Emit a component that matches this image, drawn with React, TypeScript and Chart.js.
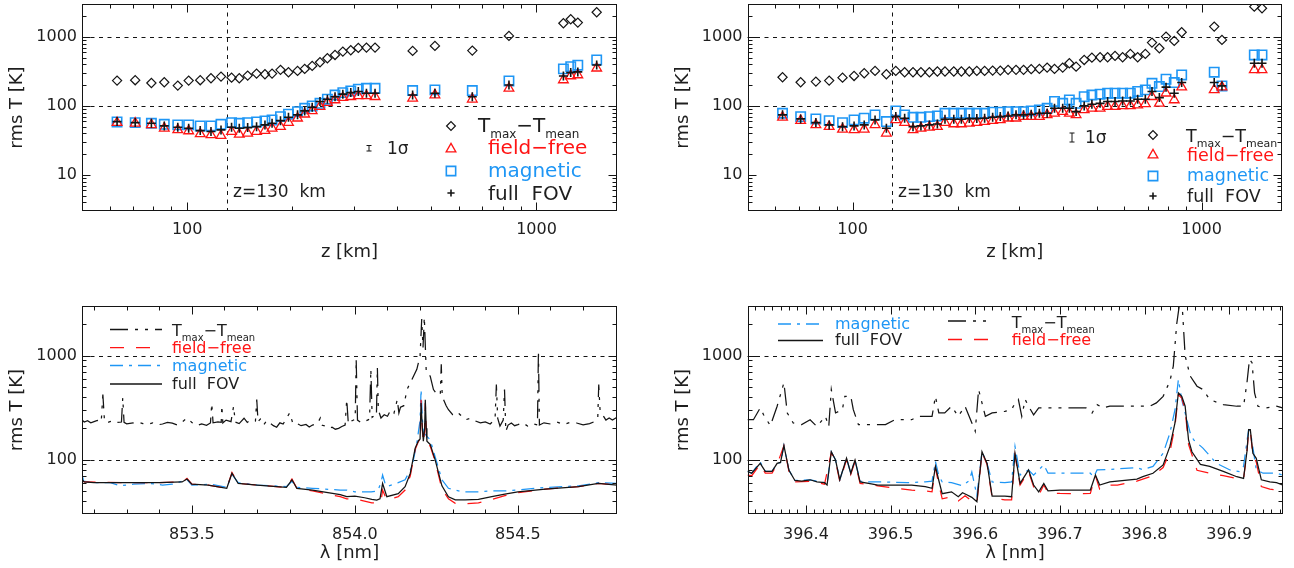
import React, { useEffect, useRef } from "react";
import { Chart, registerables } from "chart.js";

Chart.register(...registerables);

const W = 1294;
const H = 568;
const FONT = "'DejaVu Sans', 'Liberation Sans', sans-serif";
const INK = "#141414";
const TXT = "#1e1e1e";
const RED = "rgb(255,20,20)";
const BLUE = "rgb(30,150,245)";

// ---------------- top-left panel: height z [km] and rms T [K] ----------------
const tlHeight = [63, 71, 79, 86, 94, 101, 109, 117, 125, 134, 141, 149, 158, 167, 175, 185, 195, 207, 217, 228, 240, 252, 265, 279, 294, 309, 326, 345, 442, 512, 655, 834, 1194, 1253, 1313, 1487];
const tlTmax = [233, 236, 215, 220, 197, 233, 236, 252, 266, 257, 252, 275, 294, 288, 294, 333, 308, 322, 344, 380, 430, 491, 548, 613, 641, 693, 700, 700, 627, 741, 634, 1034, 1578, 1803, 1614, 2276];
const tlMagnetic = [58.6, 57.3, 56.1, 54.2, 53.1, 53.1, 51.3, 51.3, 54.2, 57.3, 56.1, 57.3, 58.6, 60.7, 62.7, 70.0, 75.8, 82.6, 92.4, 100, 109, 125, 144, 156, 165, 175, 180, 180, 167, 171, 167, 230, 344, 371, 389, 464];
const tlFieldFree = [57.3, 56.1, 53.1, 47.5, 44.9, 43.4, 39.3, 38.0, 37.2, 42.5, 38.8, 40.2, 42.5, 43.9, 47.5, 50.1, 57.3, 66.4, 75.8, 84.7, 97.7, 112, 122, 132, 136, 140, 140, 136, 129, 144, 125, 180, 238, 272, 281, 352];
const tlFullFov = [59.3, 57.3, 56.1, 51.3, 49.1, 47.5, 43.9, 42.5, 44.9, 49.1, 47.5, 48.5, 50.1, 53.1, 56.1, 61.2, 68.5, 74.2, 84.7, 95.7, 116, 125, 136, 148, 156, 162, 153, 153, 144, 153, 136, 201, 272, 304, 311, 392];

// ---------------- top-right panel ----------------
const trHeight = [63, 71, 78.5, 85.7, 93.6, 101, 108, 116, 125, 133, 141, 149, 157, 166, 175, 184, 195, 205, 216, 227, 239, 252, 265, 279, 294, 309, 325, 343, 361, 379, 400, 418, 437, 461, 485, 512, 538, 565, 594, 625, 656, 690, 721, 757, 791, 835, 877, 1087, 1144, 1416, 1490];
const trTmax = [260, 220, 225, 233, 257, 272, 298, 322, 288, 322, 308, 308, 308, 308, 315, 315, 315, 315, 315, 322, 322, 325, 325, 333, 333, 333, 341, 344, 359, 344, 359, 415, 371, 464, 501, 507, 507, 531, 507, 567, 507, 567, 828, 685, 1011, 875, 1170, 1412, 905, 2748, 2600];
const trMagnetic = [78.3, 70, 64.8, 61.2, 57.3, 62.7, 66.4, 74.2, 59.3, 84.7, 74.2, 68.5, 68.5, 70, 71.6, 78.3, 78.3, 78.3, 78.3, 78.3, 78.3, 81, 81, 82.7, 82.7, 82.7, 84.7, 87.5, 92.5, 116, 109, 122, 109, 136, 144, 148, 153, 153, 153, 153, 162, 171, 213, 191, 244, 218, 281, 308, 195, 548, 548];
const trFieldFree = [68.5, 61.2, 53.1, 50.1, 45.9, 44.9, 45.9, 53.1, 40.2, 62.7, 57.3, 44.9, 47.5, 49.1, 50.1, 57.3, 54.8, 54.8, 56.1, 57.3, 59.3, 61.2, 62.7, 66.4, 66.4, 70, 70, 70, 74.2, 78.3, 82.7, 78.3, 74.2, 87.5, 92.5, 92.5, 97.7, 97.7, 100, 100, 103, 107, 136, 109, 153, 122, 187, 171, 187, 333, 333];
const trFullFov = [74.2, 64.8, 57.3, 53.1, 50.1, 51.3, 53.1, 62.7, 47.5, 70, 66.4, 50.1, 51.3, 53.1, 54.8, 64.1, 64.1, 64.1, 65.5, 65.5, 66.4, 68.5, 70, 71.6, 74.2, 74.2, 75.8, 78.3, 78.3, 92.5, 92.5, 92.5, 82.7, 100, 106, 109, 116, 116, 118, 118, 125, 125, 162, 132, 187, 153, 218, 218, 195, 415, 415];

// ---------------- bottom-left panel: [lambda nm, rms T K] ----------------
const blTmax: [number, number][] = [[853.163, 240], [853.17, 230], [853.18, 237], [853.19, 226], [853.2, 232], [853.21, 238], [853.222, 230], [853.227, 423], [853.232, 235], [853.24, 226], [853.25, 233], [853.26, 224], [853.27, 228], [853.284, 230], [853.288, 393], [853.292, 228], [853.3, 221], [853.32, 225], [853.335, 230], [853.35, 222], [853.365, 218], [853.38, 226], [853.395, 216], [853.41, 220], [853.425, 228], [853.44, 224], [853.455, 215], [853.47, 230], [853.485, 251], [853.5, 228], [853.515, 212], [853.53, 220], [853.545, 214], [853.557, 225], [853.561, 346], [853.565, 226], [853.58, 230], [853.59, 228], [853.592, 331], [853.595, 225], [853.605, 240], [853.62, 232], [853.628, 326], [853.633, 230], [853.645, 222], [853.66, 250], [853.67, 228], [853.68, 240], [853.695, 235], [853.699, 378], [853.703, 232], [853.71, 245], [853.72, 215], [853.73, 238], [853.74, 225], [853.75, 212], [853.76, 205], [853.77, 226], [853.78, 220], [853.8, 281], [853.81, 222], [853.82, 225], [853.835, 212], [853.85, 218], [853.86, 206], [853.87, 215], [853.885, 222], [853.894, 251], [853.9, 214], [853.91, 210], [853.92, 200], [853.93, 205], [853.94, 196], [853.95, 200], [853.96, 208], [853.97, 215], [853.975, 378], [853.98, 220], [853.99, 235], [854.001, 245], [854.004, 921], [854.008, 240], [854.02, 226], [854.03, 233], [854.045, 245], [854.049, 738], [854.053, 255], [854.06, 265], [854.066, 261], [854.069, 765], [854.072, 300], [854.08, 251], [854.09, 270], [854.1, 261], [854.11, 300], [854.12, 280], [854.13, 378], [854.135, 281], [854.14, 320], [854.15, 330], [854.16, 472], [854.175, 590], [854.19, 738], [854.2, 991], [854.205, 2245], [854.209, 1200], [854.213, 2330], [854.219, 685], [854.231, 636], [854.241, 472], [854.25, 430], [854.262, 420], [854.265, 824], [854.268, 400], [854.272, 378], [854.28, 330], [854.287, 302], [854.3, 270], [854.31, 260], [854.32, 275], [854.34, 242], [854.355, 250], [854.37, 235], [854.385, 226], [854.4, 230], [854.415, 220], [854.43, 245], [854.434, 528], [854.438, 250], [854.445, 210], [854.455, 240], [854.459, 472], [854.463, 187], [854.47, 215], [854.48, 225], [854.49, 212], [854.5, 217], [854.515, 226], [854.53, 210], [854.545, 222], [854.56, 215], [854.563, 1107], [854.566, 215], [854.58, 226], [854.6, 220], [854.62, 230], [854.64, 217], [854.66, 228], [854.68, 225], [854.7, 216], [854.72, 222], [854.735, 232], [854.745, 250], [854.748, 528], [854.752, 300], [854.76, 270], [854.77, 240], [854.78, 251], [854.79, 240], [854.804, 255]];
const blFieldFree: [number, number][] = [[853.163, 63], [853.17, 61], [853.3, 60], [853.4, 60], [853.47, 61], [853.485, 66], [853.5, 58], [853.55, 57], [853.607, 53], [853.623, 75], [853.642, 59], [853.7, 57], [853.79, 54], [853.807, 65], [853.822, 53], [853.87, 50], [853.955, 44], [853.975, 42], [854.0, 42], [854.052, 38.4], [854.067, 38.4], [854.08, 39], [854.085, 51], [854.098, 40.8], [854.133, 44], [854.154, 51], [854.17, 70], [854.185, 125], [854.195, 150], [854.2, 155], [854.203, 377], [854.207, 190], [854.21, 145], [854.214, 190], [854.216, 351], [854.219, 190], [854.221, 140], [854.231, 135], [854.246, 97], [854.267, 52], [854.287, 42], [854.308, 38], [854.338, 37.6], [854.379, 38.4], [854.42, 41.4], [854.46, 45], [854.5, 48], [854.584, 52], [854.686, 55], [854.747, 59], [854.804, 57]];
const blMagnetic: [number, number][] = [[853.163, 72], [853.168, 62], [853.2, 60], [853.25, 60], [853.28, 56], [853.32, 58], [853.37, 59], [853.41, 57], [853.44, 58], [853.485, 64], [853.5, 57], [853.56, 58], [853.607, 54], [853.623, 72], [853.642, 60], [853.7, 57], [853.79, 55], [853.807, 62], [853.822, 54], [853.87, 53], [853.955, 51], [853.975, 51], [854.0, 49], [854.05, 49], [854.07, 50], [854.08, 60], [854.085, 71], [854.092, 60], [854.098, 55], [854.133, 60], [854.154, 64], [854.175, 85], [854.19, 144], [854.2, 240], [854.203, 472], [854.207, 250], [854.21, 180], [854.216, 175], [854.221, 167], [854.231, 155], [854.246, 107], [854.267, 64], [854.287, 53], [854.33, 49], [854.38, 49], [854.42, 50], [854.46, 50], [854.5, 51], [854.584, 54], [854.686, 56], [854.747, 60], [854.804, 59]];
const blFullFov: [number, number][] = [[853.163, 64], [853.17, 61], [853.2, 60], [853.3, 60], [853.4, 60], [853.47, 61], [853.485, 65], [853.5, 58], [853.55, 57], [853.607, 53], [853.623, 74], [853.642, 59], [853.7, 57], [853.79, 54], [853.807, 64], [853.822, 53], [853.87, 51], [853.955, 46], [853.975, 44], [854.0, 44.6], [854.03, 43], [854.052, 41.4], [854.067, 40.8], [854.077, 42], [854.085, 59], [854.098, 44], [854.133, 47], [854.154, 55], [854.17, 74], [854.185, 129], [854.195, 152], [854.2, 158], [854.203, 351], [854.207, 200], [854.21, 150], [854.214, 200], [854.216, 377], [854.219, 200], [854.221, 150], [854.231, 140], [854.246, 100], [854.267, 56], [854.287, 44], [854.308, 41], [854.338, 41], [854.379, 41.4], [854.42, 44], [854.46, 46.5], [854.5, 49], [854.584, 52], [854.686, 55], [854.747, 59], [854.804, 57]];

// ---------------- bottom-right panel ----------------
const brTmax: [number, number][] = [[396.331, 242], [396.338, 242], [396.346, 314], [396.35, 270], [396.358, 212], [396.366, 326], [396.374, 548], [396.378, 281], [396.385, 225], [396.395, 217], [396.405, 242], [396.413, 208], [396.423, 261], [396.427, 208], [396.43, 472], [396.435, 281], [396.443, 302], [396.446, 406], [396.453, 406], [396.456, 302], [396.462, 217], [396.474, 217], [396.494, 217], [396.505, 242], [396.525, 242], [396.533, 261], [396.549, 261], [396.553, 406], [396.557, 281], [396.564, 281], [396.572, 326], [396.58, 261], [396.588, 326], [396.6, 187], [396.604, 472], [396.612, 261], [396.62, 281], [396.635, 291], [396.643, 302], [396.645, 326], [396.651, 378], [396.655, 261], [396.659, 378], [396.663, 326], [396.669, 270], [396.675, 314], [396.684, 314], [396.712, 314], [396.731, 314], [396.738, 281], [396.744, 338], [396.751, 314], [396.759, 326], [396.806, 326], [396.814, 351], [396.822, 406], [396.83, 569], [396.834, 794], [396.838, 2000], [396.841, 3000], [396.845, 2600], [396.848, 996], [396.854, 636], [396.862, 508], [396.869, 472], [396.877, 378], [396.893, 338], [396.909, 326], [396.917, 326], [396.921, 548], [396.924, 921], [396.927, 855], [396.93, 439], [396.934, 326], [396.944, 314], [396.956, 326], [396.963, 314]];
const brFieldFree: [number, number][] = [[396.331, 71], [396.336, 70], [396.346, 90], [396.352, 74], [396.36, 74], [396.366, 90], [396.374, 136], [396.38, 77], [396.387, 61], [396.405, 62], [396.422, 58], [396.43, 117], [396.435, 97], [396.44, 62], [396.448, 100], [396.453, 72], [396.458, 96], [396.464, 59], [396.474, 58], [396.485, 56], [396.505, 53], [396.525, 51], [396.541, 50], [396.549, 49], [396.553, 83], [396.557, 58], [396.561, 42], [396.572, 44], [396.58, 40], [396.588, 45], [396.596, 40], [396.602, 38], [396.608, 117], [396.614, 90], [396.62, 43], [396.635, 41], [396.643, 41], [396.647, 110], [396.653, 57], [396.663, 77], [396.669, 54.8], [396.675, 45.6], [396.681, 57], [396.686, 48], [396.7, 47.3], [396.712, 47], [396.736, 47.3], [396.742, 70], [396.747, 52], [396.755, 57], [396.768, 57], [396.791, 62], [396.81, 70], [396.822, 84], [396.83, 119], [396.836, 210], [396.84, 420], [396.844, 390], [396.848, 300], [396.852, 140], [396.862, 79], [396.877, 74], [396.893, 70], [396.909, 66], [396.917, 65], [396.921, 118], [396.923, 190], [396.925, 188], [396.928, 110], [396.932, 95], [396.938, 55], [396.948, 52], [396.956, 51], [396.963, 50]];
const brMagnetic: [number, number][] = [[396.331, 77], [396.336, 74], [396.346, 95], [396.352, 77], [396.36, 77], [396.366, 92], [396.37, 94], [396.374, 136], [396.38, 79], [396.387, 63], [396.405, 64], [396.422, 60], [396.425, 58], [396.43, 119], [396.435, 99], [396.44, 64], [396.448, 103], [396.453, 74], [396.458, 99], [396.464, 62], [396.474, 61], [396.49, 61], [396.52, 60], [396.541, 61], [396.549, 62], [396.553, 96], [396.557, 70], [396.561, 61], [396.572, 60], [396.585, 56], [396.593, 63], [396.596, 76], [396.602, 45], [396.608, 119], [396.614, 92], [396.62, 61], [396.635, 60], [396.643, 61], [396.647, 134], [396.653, 71], [396.663, 79.5], [396.669, 71], [396.681, 89], [396.686, 74], [396.7, 74], [396.736, 74], [396.74, 68], [396.744, 79.5], [396.755, 80], [396.791, 84], [396.798, 80], [396.81, 86], [396.822, 115], [396.83, 180], [396.836, 302], [396.84, 590], [396.844, 378], [396.854, 180], [396.858, 155], [396.869, 129], [396.885, 92], [396.901, 79.5], [396.913, 76.6], [396.917, 86], [396.921, 150], [396.923, 194], [396.925, 190], [396.932, 80], [396.94, 74], [396.956, 74], [396.963, 71]];
const brFullFov: [number, number][] = [[396.331, 77], [396.336, 74], [396.346, 92], [396.352, 77], [396.36, 77], [396.366, 92], [396.37, 94], [396.374, 136], [396.38, 79], [396.387, 63], [396.395, 62], [396.405, 64], [396.413, 61], [396.422, 60], [396.425, 57], [396.43, 119], [396.435, 99], [396.44, 64], [396.448, 103], [396.453, 74], [396.458, 99], [396.464, 61], [396.474, 59], [396.485, 57], [396.505, 57], [396.525, 57], [396.541, 55], [396.549, 53], [396.553, 86], [396.557, 63], [396.561, 47], [396.572, 49], [396.58, 44], [396.585, 48], [396.59, 46], [396.596, 43.4], [396.602, 39.3], [396.608, 119], [396.614, 92], [396.62, 44.6], [396.635, 44.6], [396.643, 44], [396.647, 115], [396.653, 59], [396.663, 79.5], [396.669, 57], [396.675, 49], [396.681, 59], [396.686, 50], [396.7, 51], [396.736, 51], [396.742, 71], [396.747, 57], [396.759, 61], [396.791, 65], [396.798, 68.5], [396.81, 74], [396.822, 89], [396.83, 134], [396.836, 225], [396.84, 439], [396.844, 406], [396.848, 326], [396.852, 155], [396.856, 119], [396.866, 90], [396.877, 86], [396.893, 77], [396.909, 68.5], [396.917, 66], [396.921, 120], [396.923, 194], [396.925, 194], [396.928, 115], [396.932, 103], [396.938, 64], [396.948, 61], [396.956, 60], [396.963, 57]];

// ---------------- axis ticks ----------------
const topXMajor = [100, 1000];
const topXMinor = [60, 70, 80, 90, 200, 300, 400, 500, 600, 700, 800, 900];
const topYMajor = [10, 100, 1000];
const topYMinor = [4, 5, 6, 7, 8, 9, 20, 30, 40, 50, 60, 70, 80, 90, 200, 300, 400, 500, 600, 700, 800, 900, 2000];
const botYMajor = [100, 1000];
const botYMinor = [40, 50, 60, 70, 80, 90, 200, 300, 400, 500, 600, 700, 800, 900, 2000];
const blXMajor = [853.5, 854.0, 854.5];
const blXMinor = [853.2, 853.3, 853.4, 853.6, 853.7, 853.8, 853.9, 854.1, 854.2, 854.3, 854.4, 854.6, 854.7];
const brXMajor = [396.4, 396.5, 396.6, 396.7, 396.8, 396.9];
const brXMinor: number[] = [];
for (let k = 34; k <= 96; k++) if (k % 10 !== 0) brXMinor.push(+(396 + k / 100).toFixed(2));

const xy = (xs: number[], ys: number[]) => xs.map((x, i) => ({ x, y: ys[i] }));
const pr = (a: [number, number][]) => a.map(([x, y]) => ({ x, y }));

type Area = { left: number; right: number; top: number; bottom: number };

function drawMarker(ctx: CanvasRenderingContext2D, kind: string, x: number, y: number, r: number, color: string, lw: number) {
  ctx.save();
  ctx.setLineDash([]);
  ctx.strokeStyle = color;
  ctx.lineWidth = lw;
  ctx.beginPath();
  if (kind === "diamond") {
    ctx.moveTo(x - r, y); ctx.lineTo(x, y - r); ctx.lineTo(x + r, y); ctx.lineTo(x, y + r); ctx.closePath();
  } else if (kind === "square") {
    const s = r * Math.SQRT1_2;
    ctx.rect(x - s, y - s, 2 * s, 2 * s);
  } else if (kind === "triangle") {
    ctx.moveTo(x, y - r); ctx.lineTo(x + 0.866 * r, y + 0.5 * r); ctx.lineTo(x - 0.866 * r, y + 0.5 * r); ctx.closePath();
  } else {
    ctx.moveTo(x - r, y); ctx.lineTo(x + r, y); ctx.moveTo(x, y - r); ctx.lineTo(x, y + r);
  }
  ctx.stroke();
  ctx.restore();
}

function drawTmaxLabel(ctx: CanvasRenderingContext2D, x: number, base: number, size: number, color: string) {
  const sub = Math.round(size * 0.62);
  const dy = size * 0.3;
  ctx.fillStyle = color;
  ctx.textAlign = "left";
  ctx.textBaseline = "alphabetic";
  let cx = x;
  const seg = (t: string, s: number, off: number) => {
    ctx.font = `${s}px ${FONT}`;
    ctx.fillText(t, cx, base + off);
    cx += ctx.measureText(t).width;
  };
  seg("T", size, 0);
  seg("max", sub, dy);
  seg("\u2212T", size, 0);
  seg("mean", sub, dy);
}

function text(ctx: CanvasRenderingContext2D, t: string, x: number, base: number, size: number, color: string) {
  ctx.font = `${size}px ${FONT}`;
  ctx.fillStyle = color;
  ctx.textAlign = "left";
  ctx.textBaseline = "alphabetic";
  ctx.fillText(t, x, base);
}

function sample(ctx: CanvasRenderingContext2D, x1: number, x2: number, y: number, color: string, dash: number[]) {
  ctx.save();
  ctx.strokeStyle = color;
  ctx.lineWidth = 1.3;
  ctx.setLineDash(dash);
  ctx.beginPath();
  ctx.moveTo(x1, y);
  ctx.lineTo(x2, y);
  ctx.stroke();
  ctx.restore();
}

function sigmaBar(ctx: CanvasRenderingContext2D, x: number, y1: number, y2: number) {
  ctx.save();
  ctx.strokeStyle = INK;
  ctx.lineWidth = 1;
  ctx.setLineDash([]);
  ctx.beginPath();
  ctx.moveTo(x, y1); ctx.lineTo(x, y2);
  ctx.moveTo(x - 2.5, y1); ctx.lineTo(x + 2.5, y1);
  ctx.moveTo(x - 2.5, y2); ctx.lineTo(x + 2.5, y2);
  ctx.stroke();
  ctx.restore();
}

const DASH_TMAX = [18, 7, 3, 7, 3, 7];
const DASH_FF = [14, 12];
const DASH_MAG = [13, 6, 3, 6];

type Spec = {
  area: Area;
  xType: "logarithmic" | "linear";
  xMin: number; xMax: number;
  yMin: number; yMax: number;
  xMajor: number[]; xMinor: number[];
  yMajor: number[]; yMinor: number[];
  xFmt: (v: number) => string;
  xPad: number;
  hGrid: number[];
  vLine?: number;
  xTitle: string; xTitleY: number; yTitleX: number;
  datasets: any[];
  decorate: (ctx: CanvasRenderingContext2D) => void;
};

function topDatasets(z: number[], tmax: number[], mag: number[], ff: number[], fov: number[]) {
  const base = { showLine: false, pointBackgroundColor: "rgba(0,0,0,0)", backgroundColor: "rgba(0,0,0,0)" };
  return [
    { ...base, label: "full FOV", data: xy(z, fov), pointStyle: "cross", pointRadius: 4.5, borderColor: INK, pointBorderColor: INK, pointBorderWidth: 1.6, order: 0 },
    { ...base, label: "field-free", data: xy(z, ff), pointStyle: "triangle", pointRadius: 5.6, borderColor: RED, pointBorderColor: RED, pointBorderWidth: 1.3, order: 1 },
    { ...base, label: "magnetic", data: xy(z, mag), pointStyle: "rect", pointRadius: 6.6, borderColor: BLUE, pointBorderColor: BLUE, pointBorderWidth: 1.6, order: 2 },
    { ...base, label: "Tmax-Tmean", data: xy(z, tmax), pointStyle: "rectRot", pointRadius: 4.6, borderColor: INK, pointBorderColor: INK, pointBorderWidth: 1.2, order: 3 },
  ];
}

function lineDatasets(tmax: [number, number][], ff: [number, number][], mag: [number, number][], fov: [number, number][]) {
  const base = { showLine: true, pointRadius: 0, borderWidth: 1.25, tension: 0, fill: false, backgroundColor: "rgba(0,0,0,0)" };
  return [
    { ...base, label: "full FOV", data: pr(fov), borderColor: INK, order: 0 },
    { ...base, label: "field-free", data: pr(ff), borderColor: RED, borderDash: DASH_FF, order: 1 },
    { ...base, label: "magnetic", data: pr(mag), borderColor: BLUE, borderDash: DASH_MAG, order: 2 },
    { ...base, label: "Tmax-Tmean", data: pr(tmax), borderColor: INK, borderDash: DASH_TMAX, order: 3 },
  ];
}

const intFmt = (v: number) => String(Math.round(v));
const oneDec = (v: number) => v.toFixed(1);

const specs: Spec[] = [
  {
    area: { left: 82, right: 617, top: 4, bottom: 211 },
    xType: "logarithmic", xMin: 50, xMax: 1700, yMin: 3, yMax: 3000,
    xMajor: topXMajor, xMinor: topXMinor, yMajor: topYMajor, yMinor: topYMinor,
    xFmt: intFmt, xPad: 9, hGrid: [100, 1000], vLine: 130,
    xTitle: "z [km]", xTitleY: 252, yTitleX: 17.5,
    datasets: topDatasets(tlHeight, tlTmax, tlMagnetic, tlFieldFree, tlFullFov),
    decorate: (ctx) => {
      drawMarker(ctx, "diamond", 451, 126, 4.4, INK, 1.2);
      drawMarker(ctx, "triangle", 451, 149, 5.6, RED, 1.3);
      drawMarker(ctx, "square", 451, 171, 6.6, BLUE, 1.6);
      drawMarker(ctx, "plus", 451, 193, 3.6, INK, 1.6);
      drawTmaxLabel(ctx, 478, 131.7, 20, TXT);
      text(ctx, "field\u2212free", 488, 154, 20, RED);
      text(ctx, "magnetic", 488, 177, 20, BLUE);
      text(ctx, "full  FOV", 488, 200, 20, TXT);
      sigmaBar(ctx, 369, 145.5, 151);
      text(ctx, "1\u03c3", 387, 154, 17, TXT);
      text(ctx, "z=130  km", 233, 197.3, 17, TXT);
    },
  },
  {
    area: { left: 747.5, right: 1282, top: 4, bottom: 211 },
    xType: "logarithmic", xMin: 50, xMax: 1700, yMin: 3, yMax: 3000,
    xMajor: topXMajor, xMinor: topXMinor, yMajor: topYMajor, yMinor: topYMinor,
    xFmt: intFmt, xPad: 9, hGrid: [100, 1000], vLine: 130,
    xTitle: "z [km]", xTitleY: 252, yTitleX: 683,
    datasets: topDatasets(trHeight, trTmax, trMagnetic, trFieldFree, trFullFov),
    decorate: (ctx) => {
      drawMarker(ctx, "diamond", 1153, 135, 4.4, INK, 1.2);
      drawMarker(ctx, "triangle", 1153, 155, 5.6, RED, 1.3);
      drawMarker(ctx, "square", 1153, 176, 6.6, BLUE, 1.6);
      drawMarker(ctx, "plus", 1153, 196, 3.6, INK, 1.6);
      drawTmaxLabel(ctx, 1186, 141.5, 17.5, TXT);
      text(ctx, "field\u2212free", 1187, 160.7, 17.5, RED);
      text(ctx, "magnetic", 1187, 180.5, 17.5, BLUE);
      text(ctx, "full  FOV", 1187, 201.5, 17.5, TXT);
      sigmaBar(ctx, 1072, 133, 142);
      text(ctx, "1\u03c3", 1085, 142.7, 17, TXT);
      text(ctx, "z=130  km", 898, 197.3, 17, TXT);
    },
  },
  {
    area: { left: 82, right: 617, top: 306, bottom: 514 },
    xType: "linear", xMin: 853.163, xMax: 854.804, yMin: 30, yMax: 3000,
    xMajor: blXMajor, xMinor: blXMinor, yMajor: botYMajor, yMinor: botYMinor,
    xFmt: oneDec, xPad: 11, hGrid: [100, 1000],
    xTitle: "\u03bb [nm]", xTitleY: 553, yTitleX: 17.5,
    datasets: lineDatasets(blTmax, blFieldFree, blMagnetic, blFullFov),
    decorate: (ctx) => {
      sample(ctx, 110, 162, 329.5, INK, DASH_TMAX);
      sample(ctx, 110, 162, 347.7, RED, DASH_FF);
      sample(ctx, 110, 162, 365.5, BLUE, DASH_MAG);
      sample(ctx, 110, 162, 384, INK, []);
      drawTmaxLabel(ctx, 172, 336, 16, TXT);
      text(ctx, "field\u2212free", 172, 352.7, 16, RED);
      text(ctx, "magnetic", 172, 370.7, 16, BLUE);
      text(ctx, "full  FOV", 172, 389, 16, TXT);
    },
  },
  {
    area: { left: 747.5, right: 1282.5, top: 306, bottom: 514 },
    xType: "linear", xMin: 396.331, xMax: 396.963, yMin: 30, yMax: 3000,
    xMajor: brXMajor, xMinor: brXMinor, yMajor: botYMajor, yMinor: botYMinor,
    xFmt: oneDec, xPad: 11, hGrid: [100, 1000],
    xTitle: "\u03bb [nm]", xTitleY: 553, yTitleX: 683,
    datasets: lineDatasets(brTmax, brFieldFree, brMagnetic, brFullFov),
    decorate: (ctx) => {
      sample(ctx, 778, 823, 324, BLUE, DASH_MAG);
      sample(ctx, 778, 823, 340.5, INK, []);
      text(ctx, "magnetic", 835, 329, 16, BLUE);
      text(ctx, "full  FOV", 835, 345, 16, TXT);
      sample(ctx, 948, 990, 321, INK, DASH_TMAX);
      sample(ctx, 948, 990, 339.5, RED, DASH_FF);
      drawTmaxLabel(ctx, 1011.7, 328, 16, TXT);
      text(ctx, "field\u2212free", 1011.7, 345, 16, RED);
    },
  },
];

function decorPlugin(spec: Spec) {
  return {
    id: "panelDecor",
    beforeDatasetsDraw(chart: any) {
      const { ctx, chartArea: a } = chart;
      const xs = chart.scales.x;
      const ys = chart.scales.y;
      ctx.save();
      ctx.strokeStyle = INK;
      ctx.lineWidth = 1;
      ctx.setLineDash([4, 4.5]);
      for (const v of spec.hGrid) {
        const py = Math.round(ys.getPixelForValue(v)) + 0.5;
        ctx.beginPath();
        ctx.moveTo(a.left, py);
        ctx.lineTo(a.right, py);
        ctx.stroke();
      }
      if (spec.vLine != null) {
        const px = Math.round(xs.getPixelForValue(spec.vLine)) + 0.5;
        ctx.beginPath();
        ctx.moveTo(px, a.top);
        ctx.lineTo(px, a.bottom);
        ctx.stroke();
      }
      ctx.restore();
    },
    afterDatasetsDraw(chart: any) {
      const { ctx, chartArea: a } = chart;
      const xs = chart.scales.x;
      const ys = chart.scales.y;
      ctx.save();
      ctx.setLineDash([]);
      ctx.strokeStyle = INK;
      ctx.lineWidth = 1;
      const L = Math.round(a.left) + 0.5, R = Math.round(a.right) - 0.5;
      const T = Math.round(a.top) + 0.5, B = Math.round(a.bottom) - 0.5;
      ctx.strokeRect(L, T, R - L, B - T);
      ctx.beginPath();
      const xt = (vals: number[], len: number) => {
        for (const v of vals) {
          const px = Math.round(xs.getPixelForValue(v)) + 0.5;
          if (px <= L + 1 || px >= R - 1) continue;
          ctx.moveTo(px, B); ctx.lineTo(px, B - len);
          ctx.moveTo(px, T); ctx.lineTo(px, T + len);
        }
      };
      const yt = (vals: number[], len: number) => {
        for (const v of vals) {
          const py = Math.round(ys.getPixelForValue(v)) + 0.5;
          if (py <= T + 1 || py >= B - 1) continue;
          ctx.moveTo(L, py); ctx.lineTo(L + len, py);
          ctx.moveTo(R, py); ctx.lineTo(R - len, py);
        }
      };
      xt(spec.xMajor, 8);
      xt(spec.xMinor, 4);
      yt(spec.yMajor, 8);
      yt(spec.yMinor, 4);
      ctx.stroke();

      spec.decorate(ctx);

      ctx.fillStyle = TXT;
      ctx.font = `18px ${FONT}`;
      ctx.textAlign = "center";
      ctx.textBaseline = "middle";
      ctx.fillText(spec.xTitle, (a.left + a.right) / 2, spec.xTitleY);
      ctx.translate(spec.yTitleX, (a.top + a.bottom) / 2);
      ctx.rotate(-Math.PI / 2);
      ctx.fillText("rms T [K]", 0, 0);
      ctx.restore();
    },
  };
}

function makeConfig(spec: Spec): any {
  const tickFont = { family: FONT, size: 16 };
  const noPad = (s: any) => {
    s.paddingTop = 0;
    s.paddingBottom = 0;
    s.paddingLeft = 0;
    s.paddingRight = 0;
  };
  return {
    type: "scatter",
    data: { datasets: spec.datasets },
    options: {
      responsive: false,
      maintainAspectRatio: false,
      animation: false,
      devicePixelRatio: 1,
      events: [],
      layout: {
        autoPadding: false,
        padding: {
          left: spec.area.left - 60,
          right: W - spec.area.right,
          top: spec.area.top,
          bottom: H - spec.area.bottom - 40,
        },
      },
      plugins: { legend: { display: false }, tooltip: { enabled: false }, title: { display: false } },
      scales: {
        x: {
          type: spec.xType,
          position: "bottom",
          min: spec.xMin,
          max: spec.xMax,
          grid: { display: false, drawTicks: false },
          border: { display: false },
          ticks: {
            autoSkip: false,
            maxRotation: 0,
            minRotation: 0,
            padding: spec.xPad,
            color: TXT,
            font: tickFont,
            callback: (v: any) => spec.xFmt(Number(v)),
          },
          afterBuildTicks: (s: any) => {
            s.ticks = spec.xMajor.map((v) => ({ value: v }));
          },
          afterFit: (s: any) => {
            s.height = 40;
            noPad(s);
          },
        },
        y: {
          type: "logarithmic",
          position: "left",
          min: spec.yMin,
          max: spec.yMax,
          grid: { display: false, drawTicks: false },
          border: { display: false },
          ticks: {
            autoSkip: false,
            padding: 5,
            color: TXT,
            font: tickFont,
            callback: (v: any) => intFmt(Number(v)),
          },
          afterBuildTicks: (s: any) => {
            s.ticks = spec.yMajor.map((v) => ({ value: v }));
          },
          afterFit: (s: any) => {
            s.width = 60;
            noPad(s);
          },
        },
      },
    },
    plugins: [decorPlugin(spec)],
  };
}

function Panel({ spec }: { spec: Spec }) {
  const ref = useRef<HTMLCanvasElement>(null);
  useEffect(() => {
    if (!ref.current) return;
    const chart = new Chart(ref.current, makeConfig(spec));
    return () => chart.destroy();
  }, [spec]);
  return (
    <canvas
      ref={ref}
      width={W}
      height={H}
      style={{ position: "absolute", left: 0, top: 0, width: W, height: H }}
    />
  );
}

export default function App() {
  return (
    <div style={{ position: "absolute", left: 0, top: 0, width: W, height: H, background: "#ffffff", overflow: "hidden" }}>
      {specs.map((s, i) => (
        <Panel key={i} spec={s} />
      ))}
    </div>
  );
}
